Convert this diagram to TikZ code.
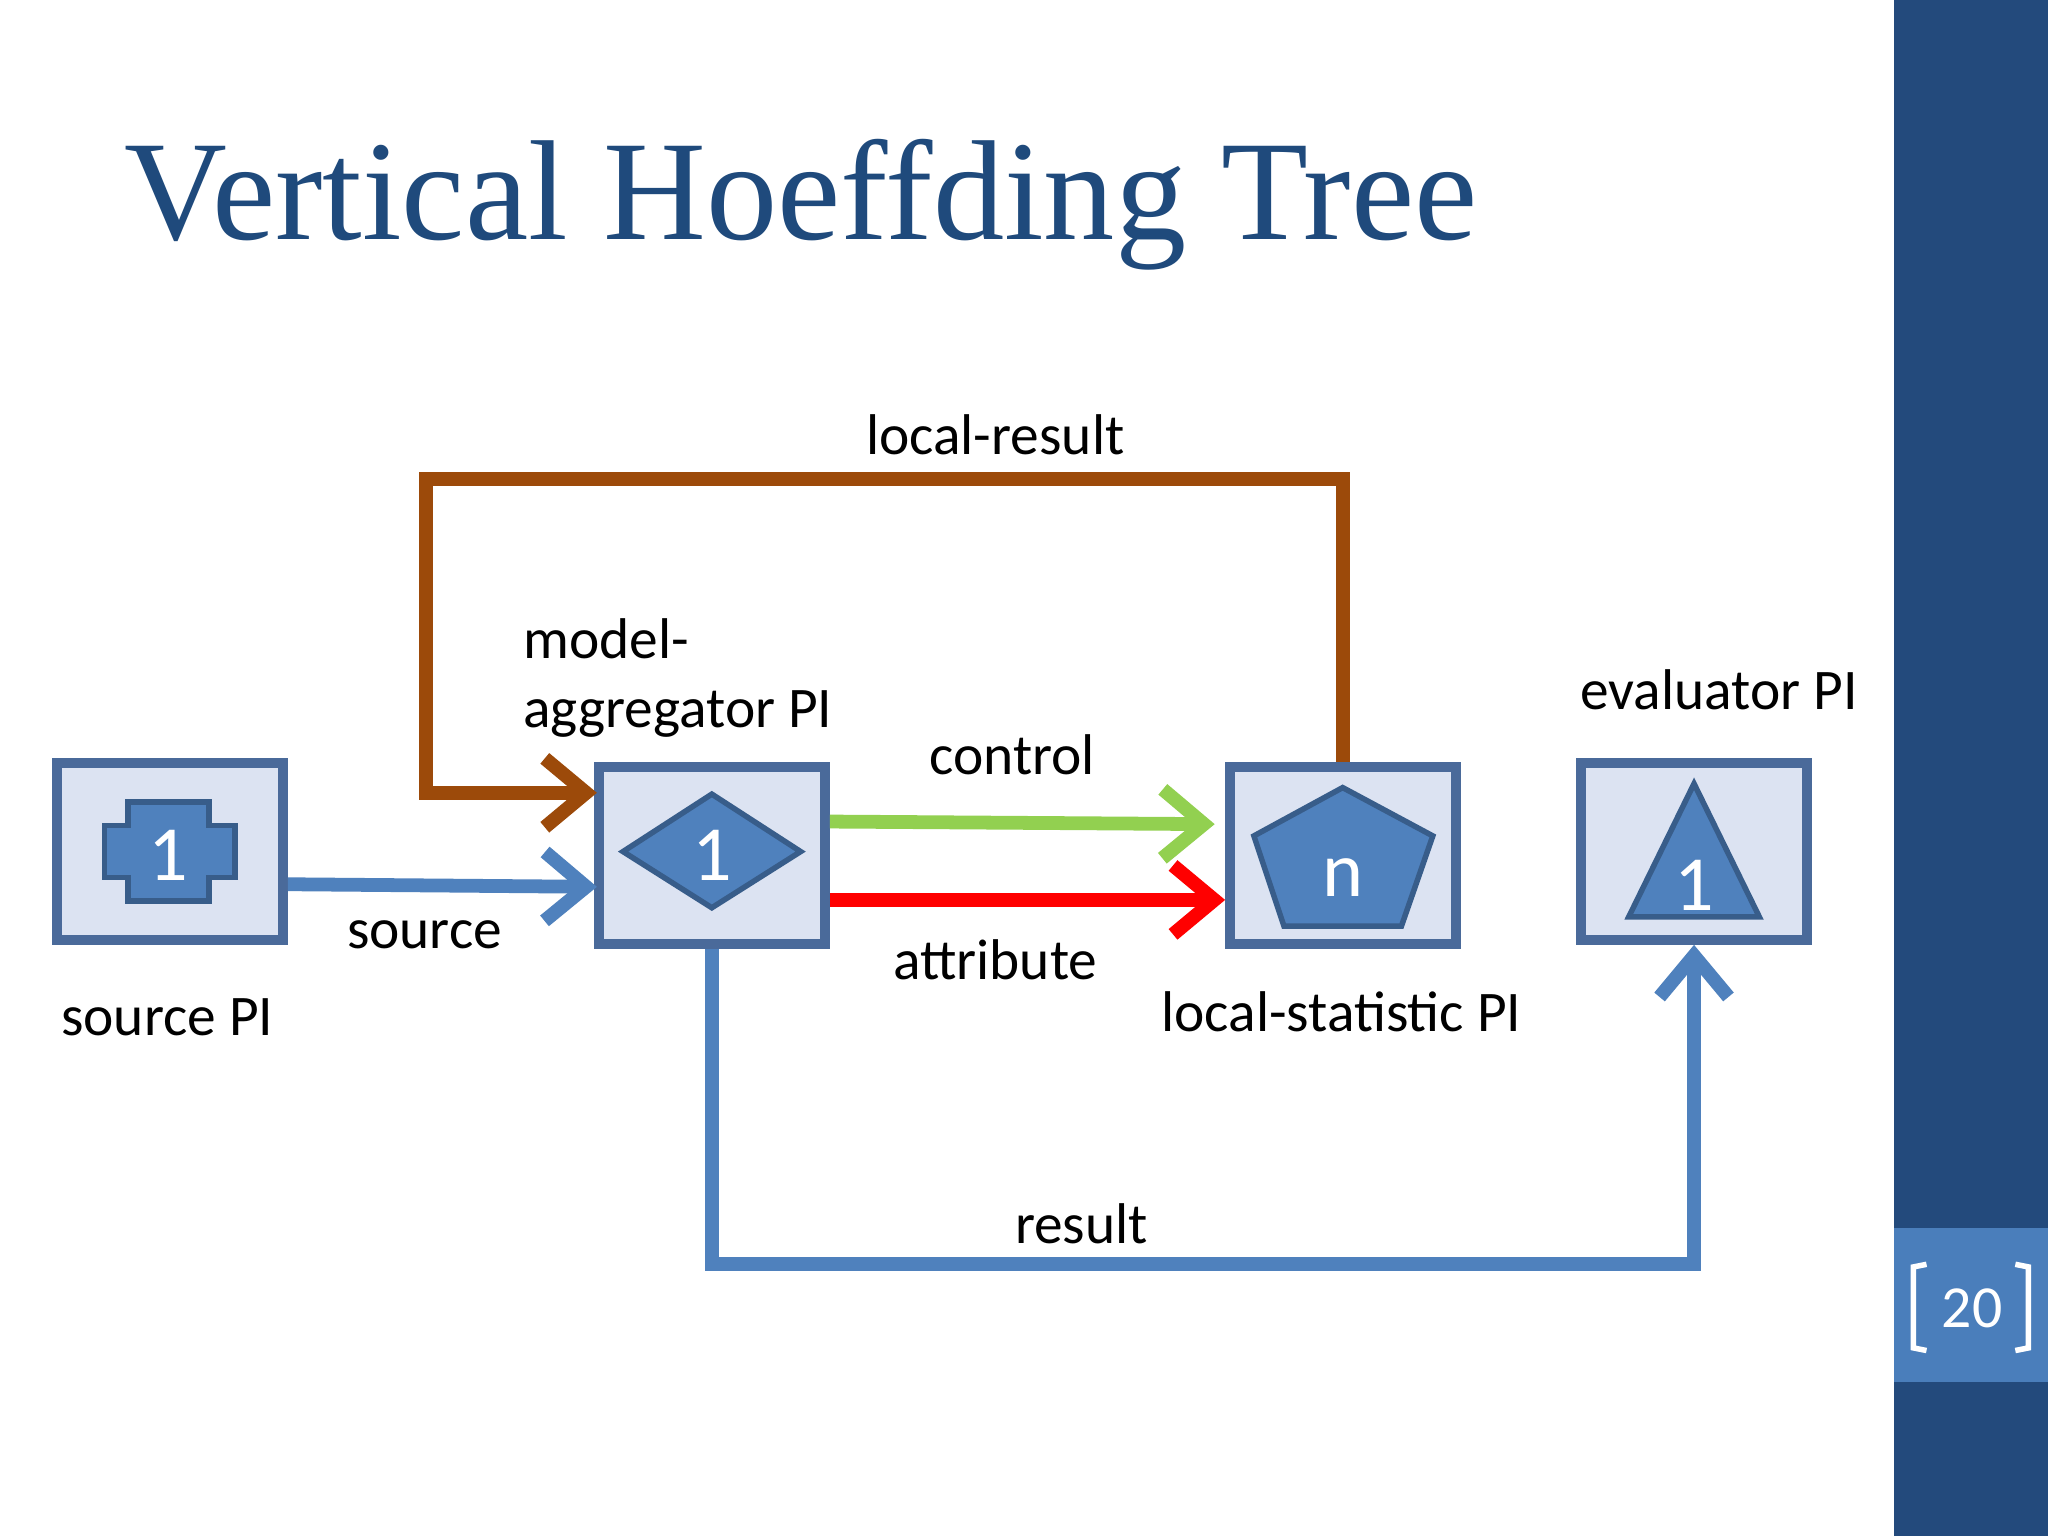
\documentclass[tikz,border=0pt]{standalone}
\usepackage{fontspec}
\setmainfont{Carlito}
\newfontfamily\titlefont{Liberation Serif}
\usetikzlibrary{arrows.meta}
\definecolor{slideblue}{HTML}{234A7C}
\definecolor{pagebox}{HTML}{4A7EBB}
\definecolor{boxfill}{HTML}{DCE3F2}
\definecolor{boxline}{HTML}{4A6A9A}
\definecolor{shapefill}{HTML}{4F81BD}
\definecolor{shapeline}{HTML}{385D8A}
\definecolor{flowblue}{HTML}{4F81BD}
\definecolor{flowbrown}{HTML}{9C4A0A}
\definecolor{flowgreen}{HTML}{92D050}
\definecolor{titleblue}{HTML}{1F4A7C}
\begin{document}
\begin{tikzpicture}[x=0.01cm,y=-0.01cm]
    \tikzstyle{pi}=[draw=boxline, fill=boxfill, line width=2.2pt, minimum width=1.73cm, minimum height=1.35cm, inner sep=0pt]
    \tikzstyle{inner}=[fill=shapefill, draw=shapeline, line width=1.2pt]
    \tikzstyle{num}=[text=white, font=\fontsize{17}{17}\selectfont]
    \tikzstyle{lbl}=[font=\fontsize{12.5}{15}\selectfont, inner sep=0pt]
    \tikzstyle{flow}=[line width=3pt, -{Straight Barb[length=9pt,width=15pt,line width=3pt]}]

    \useasboundingbox (0,0) rectangle (1568,1176);
    \fill[white] (0,0) rectangle (1568,1176);
    \fill[slideblue] (1450,0) rectangle (1568,1176);
    \fill[pagebox] (1450,940) rectangle (1568,1058);
    \draw[white, line width=1.2pt] (1475,968) -- (1465,970) -- (1465,1032) -- (1475,1034);
    \draw[white, line width=1.2pt] (1543,968) -- (1553,970) -- (1553,1032) -- (1543,1034);
    \node[text=white, font=\fontsize{13}{13}\selectfont] (page) at (1510,1002) {20};

    \node[anchor=base west, text=titleblue, inner sep=0pt, font=\titlefont\fontsize{31}{31}\selectfont] (title) at (95,183) {Vertical Hoeffding Tree};

    % processing items
    \node[pi] (src) at (130,652) {};
    \node[pi] (agg) at (545,655) {};
    \node[pi] (loc) at (1028,655) {};
    \node[pi] (eva) at (1297,652) {};

    \draw[inner] (98,614) -- (160,614) -- (160,632) -- (180,632) -- (180,672) -- (160,672) -- (160,690) -- (98,690) -- (98,672) -- (80,672) -- (80,632) -- (98,632) -- cycle;
    \draw[inner] (545,608) -- (613,652) -- (545,695) -- (477,652) -- cycle;
    \draw[inner] (1028,603) -- (1097,640) -- (1073,709) -- (983,709) -- (960,640) -- cycle;
    \draw[inner] (1297,600) -- (1347,702) -- (1247,702) -- cycle;
    \node[num] (srcn) at (129,655) {1};
    \node[num] (aggn) at (545,655) {1};
    \node[num] (locn) at (1028,672) {n};
    \node[num] (evan) at (1297,678) {1};

    % streams
    \coordinate (aggin) at (457,679);
    \coordinate (aggtop) at (457,607);
    \coordinate (locin) at (930,631);
    \coordinate (locin2) at (938,689);
    \draw[flow, flowblue] (src.east |- 0,677) -- (aggin);
    \draw[flow, flowbrown] (loc.north) -- (1028,367) -- (326,367) -- (326,607) -- (aggtop);
    \draw[flow, flowgreen] (agg.east |- 0,629) -- (locin);
    \draw[flow, red] (agg.east |- 0,689) -- (locin2);
    \draw[flow, flowblue] (agg.south) -- (545,968) -- (1297,968) -- (eva.south);

    % labels
    \node[lbl] (lres) at (762,333) {local-result};
    \node[lbl, anchor=west, align=left] (aggl) at (400,519) {model-\\aggregator PI};
    \node[lbl] (ctrl) at (775,578) {control};
    \node[lbl] (srcs) at (325,716) {source};
    \node[lbl] (attr) at (762,735) {attribute};
    \node[lbl] (locl) at (1027,775) {local-statistic PI};
    \node[lbl] (eval) at (1316,528) {evaluator PI};
    \node[lbl] (srcl) at (128,779) {source PI};
    \node[lbl] (res) at (828,937) {result};
  \end{tikzpicture}
\end{document}
